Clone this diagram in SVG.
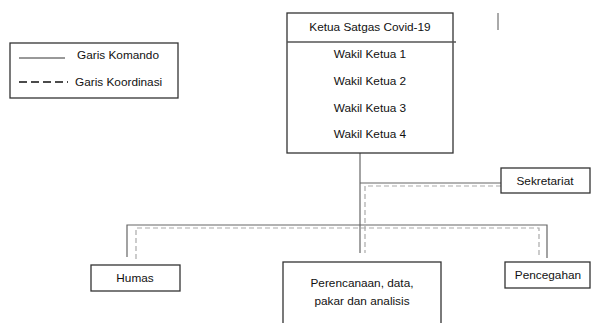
<svg xmlns="http://www.w3.org/2000/svg" width="591" height="323" viewBox="0 0 591 323">
<style>
text{font-family:"Liberation Sans",Arial,sans-serif;font-size:11.8px;fill:#111}
.box{fill:#fff;stroke:#333;stroke-width:1.3}
.solid{fill:none;stroke:#666;stroke-width:1.2}
.dash{fill:none;stroke:#aaa;stroke-width:1.2;stroke-dasharray:5,3}
</style>
<rect width="591" height="323" fill="#fff"/>
<g id="legend">
<rect class="box" x="10" y="43" width="168" height="55"/>
<line x1="19" y1="58" x2="65" y2="58" stroke="#333" stroke-width="1"/>
<text x="77" y="59">Garis Komando</text>
<line x1="19" y1="82" x2="68" y2="82" stroke="#111" stroke-width="1.4" stroke-dasharray="8,4"/>
<text x="75" y="86">Garis Koordinasi</text>
</g>
<g id="connectors">
<line class="solid" x1="360" y1="153" x2="360" y2="253"/>
<polyline class="solid" points="360,183 501,183"/>
<polyline class="dash" points="501,186 365,186 365,253"/>
<polyline class="solid" points="127,257 127,225 547,225 547,258"/>
<polyline class="dash" points="136,259 136,228 539,228 539,258"/>
<line x1="498" y1="13" x2="498" y2="30" stroke="#555" stroke-width="1"/>
</g>
<g id="ketua">
<rect class="box" x="287" y="13" width="166" height="140"/>
<line x1="287" y1="42" x2="456" y2="42" stroke="#555" stroke-width="1.3"/>
<text x="370" y="31" text-anchor="middle">Ketua Satgas Covid-19</text>
<text x="370" y="58" text-anchor="middle">Wakil Ketua 1</text>
<text x="370" y="85" text-anchor="middle">Wakil Ketua 2</text>
<text x="370" y="112" text-anchor="middle">Wakil Ketua 3</text>
<text x="370" y="138" text-anchor="middle">Wakil Ketua 4</text>
</g>
<g id="sekretariat">
<rect class="box" x="501" y="168" width="89" height="25"/>
<text x="545" y="185" text-anchor="middle">Sekretariat</text>
</g>
<g id="humas">
<rect class="box" x="91" y="265" width="89" height="26"/>
<text x="135" y="282" text-anchor="middle">Humas</text>
</g>
<g id="perencanaan">
<rect class="box" x="283" y="262" width="158" height="70"/>
<text x="362" y="287" text-anchor="middle">Perencanaan, data,</text>
<text x="362" y="305" text-anchor="middle">pakar dan analisis</text>
</g>
<g id="pencegahan">
<rect class="box" x="505" y="262" width="85" height="26"/>
<text x="548" y="279" text-anchor="middle">Pencegahan</text>
</g>
</svg>
